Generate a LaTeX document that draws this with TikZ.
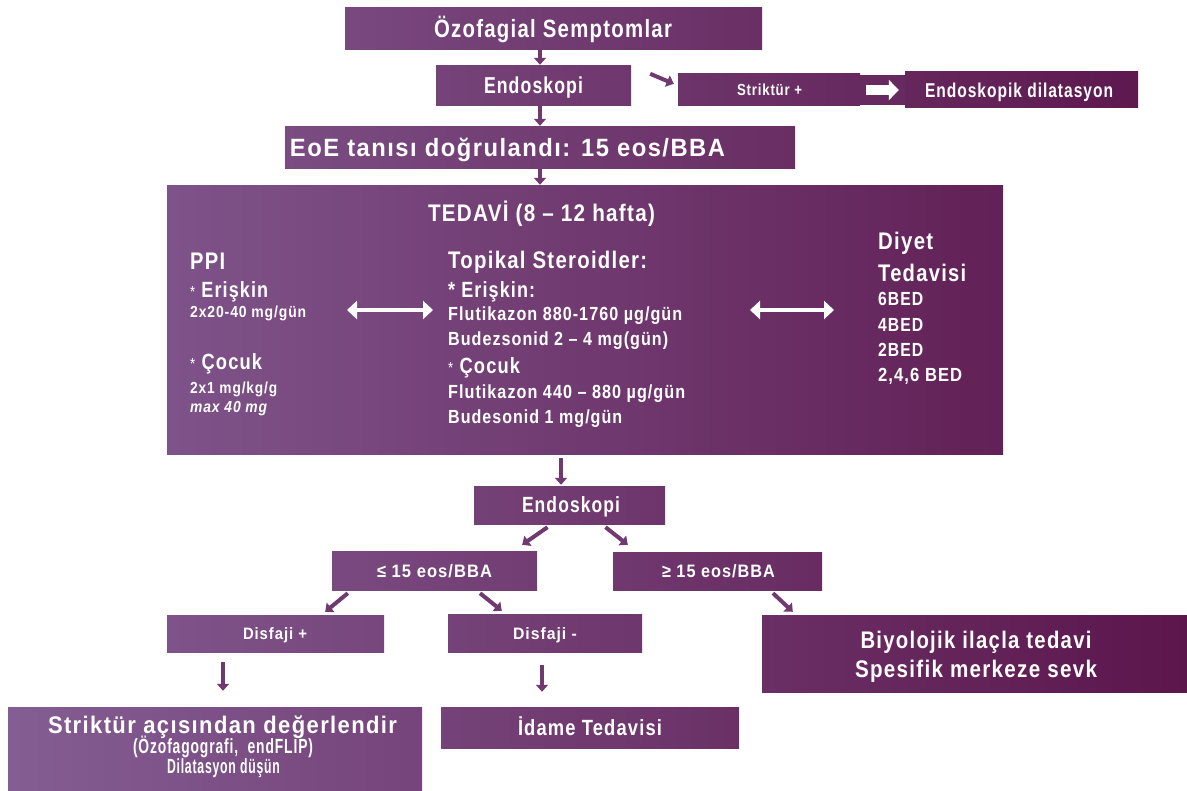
\documentclass[tikz,border=0pt]{standalone}
\usepackage{graphicx}
\usepackage{fontspec}
\setmainfont[FakeStretch=0.8,LetterSpace=5]{Liberation Sans}
\usetikzlibrary{arrows.meta,calc}
\definecolor{gL}{RGB}{132,94,148}
\definecolor{gR}{RGB}{92,22,76}
\definecolor{arrc}{RGB}{112,58,112}
\newcommand\fs[1]{\fontsize{#1}{#1}\selectfont}
\newsavebox\fitbox
\newlength\fitlen
\newcommand\fitw[2]{\sbox\fitbox{#2}\setlength\fitlen{\wd\fitbox}%
  \pgfmathsetmacro\fitfac{#1/\fitlen}\scalebox{\fitfac}[1]{\usebox\fitbox}}
\newcommand\gradbox[5]{%
  \pgfmathtruncatemacro\pa{100*(1-#2/1187)}%
  \pgfmathtruncatemacro\pb{100*(1-#4/1187)}%
  \node[gbox, minimum width={#4-#2}, minimum height={#5-#3},
        left color=gL!\pa!gR, right color=gL!\pb!gR]
        (#1) at ({(#2+#4)/2},{(#3+#5)/2}) {};}
\tikzset{
  gbox/.style={inner sep=0pt, draw=none},
  arr/.style={draw=arrc, line width=4pt, -{Triangle[length=7pt,width=12pt]}},
  warr/.style={draw=white, line width=4.5pt, {Triangle[length=10pt,width=18pt]}-{Triangle[length=10pt,width=18pt]}},
  wone/.style={draw=white, line width=10pt, -{Triangle[length=10pt,width=20pt]}},
  tx/.style={text=white, font=\bfseries, anchor=base, inner sep=0pt},
  txl/.style={tx, anchor=base west},
}
\begin{document}
\begin{tikzpicture}[x=1pt,y=-1pt]
\fill[white] (0,0) rectangle (1187,791);
\useasboundingbox (0,0) rectangle (1187,791);

\gradbox{oz}{345}{8}{762}{50}
\gradbox{en1}{436}{66}{631}{106}
\gradbox{str}{678}{74}{860}{106}
\fill[gL!28!gR] (str.north east) ++(0,1) rectangle (905,105);
\gradbox{dil}{905}{72}{1138}{108}
\gradbox{eoe}{285}{127}{795}{169}
\gradbox{big}{167}{186}{1003}{455}
\gradbox{en2}{474}{487}{665}{525}
\gradbox{le}{332}{552}{537}{590}
\gradbox{ge}{613}{553}{822}{590}
\gradbox{dp}{167}{615}{384}{652}
\gradbox{dm}{448}{614}{642}{652}
\gradbox{bio}{762}{615}{1187}{692}
\gradbox{sa}{8}{707}{422}{791}
\gradbox{id}{441}{707}{739}{748}

% box texts
\node[tx] (ozt) at (553,38) {\fs{25}\fitw{238}{Özofagial Semptomlar}};
\node[tx] (en1t) at (533.5,94) {\fs{23}\fitw{99}{Endoskopi}};
\node[tx] (strt) at (769.5,96) {\fs{16}\fitw{65}{Striktür +}};
\node[tx] (dilt) at (1019,98) {\fs{20}\fitw{188}{Endoskopik dilatasyon}};
\node[tx] (eoet) at (507.5,157) {\fs{25}\fitw{435}{EoE tanısı doğrulandı: 15 eos/BBA}};
\node[tx] (en2t) at (571,513) {\fs{22}\fitw{98}{Endoskopi}};
\node[tx] (let) at (434.5,577) {\fs{18}\fitw{115}{≤ 15 eos/BBA}};
\node[tx] (get) at (718.5,577) {\fs{18}\fitw{113}{≥ 15 eos/BBA}};
\node[tx] (dpt) at (275,639.5) {\fs{16.5}\fitw{64}{Disfaji +}};
\node[tx] (dmt) at (545,639) {\fs{16.5}\fitw{64}{Disfaji -}};
\node[tx] (biot1) at (976,648) {\fs{24}\fitw{231}{Biyolojik ilaçla tedavi}};
\node[tx] (biot2) at (976,677) {\fs{24}\fitw{242}{Spesifik merkeze sevk}};
\node[tx] (sat1) at (222.5,733) {\fs{24}\fitw{349}{Striktür açısından değerlendir}};
\node[tx] (sat2) at (223,753) {\fs{20.5}\fitw{180}{(Özofagografi,\ \ endFLIP)}};
\node[tx] (sat3) at (223.5,773) {\fs{20.5}\fitw{113}{Dilatasyon düşün}};
\node[tx] (idt) at (590,735) {\fs{22}\fitw{144}{İdame Tedavisi}};

% contents of the treatment box
\node[tx] (ted) at (541.5,222) {\fs{24}\fitw{227}{TEDAVİ (8 – 12 hafta)}};
\node[txl] (ppi) at (190,270) {\fs{24}\fitw{35}{PPI}};
\node[txl] (ppi1) at (190,298) {\fs{22}\fitw{78}{{\mdseries\fs{16}*} Erişkin}};
\node[txl] (ppi2) at (190,318) {\fs{16}\fitw{116}{2x20-40 mg/gün}};
\node[txl] (ppi3) at (190,370) {\fs{22}\fitw{72}{{\mdseries\fs{16}*} Çocuk}};
\node[txl] (ppi4) at (190,394) {\fs{16}\fitw{87}{2x1 mg/kg/g}};
\node[txl] (ppi5) at (190,413) {\fs{16}\itshape\fitw{77}{max 40 mg}};

\node[txl] (ts) at (448,269) {\fs{24}\fitw{199}{Topikal Steroidler:}};
\node[txl] (ts1) at (448,298) {\fs{22}\fitw{87}{* Erişkin:}};
\node[txl] (ts2) at (448,321) {\fs{19}\fitw{234}{Flutikazon 880-1760 µg/gün}};
\node[txl] (ts3) at (448,346) {\fs{19}\fitw{220}{Budezsonid 2 – 4 mg(gün)}};
\node[txl] (ts4) at (448,374) {\fs{22}\fitw{72}{{\mdseries\fs{16}*} Çocuk}};
\node[txl] (ts5) at (448,399) {\fs{19}\fitw{237}{Flutikazon 440 – 880 µg/gün}};
\node[txl] (ts6) at (448,424) {\fs{19}\fitw{174}{Budesonid 1 mg/gün}};

\node[txl] (dy) at (878,250) {\fs{24}\fitw{55}{Diyet}};
\node[txl] (dy1) at (878,282) {\fs{24}\fitw{88}{Tedavisi}};
\node[txl] (dy2) at (878,306) {\fs{19}\fitw{45}{6BED}};
\node[txl] (dy3) at (878,332) {\fs{19}\fitw{45}{4BED}};
\node[txl] (dy4) at (878,357) {\fs{19}\fitw{45}{2BED}};
\node[txl] (dy5) at (878,382) {\fs{19}\fitw{84}{2,4,6 BED}};

\coordinate (w1a) at (347,310);
\coordinate (w1b) at (433,310);
\coordinate (w2a) at (750,310);
\coordinate (w2b) at (834,310);
\draw[warr] (w1a) -- (w1b);
\draw[warr] (w2a) -- (w2b);

% connectors
\draw[arr] ($(oz.south)+(-13.5,0)$) -- ($(en1.north)+(6.5,-1)$);
\draw[arr] ($(en1.south)+(6.5,0)$) -- ($(eoe.north)+(0,-1)$);
\draw[arr] (eoe.south) -- ($(big.north)+(-45,-1)$);
\draw[arr] ($(en1.north east)+(19,8)$) -- ($(str.north west)+(-4,10)$);
\draw[wone] ($(str.east)+(6,0)$) -- ($(dil.west)+(-6,0)$);
\draw[arr] ($(big.south)+(-24,3)$) -- ($(en2.north)+(-8.5,-2)$);
\draw[arr] ($(en2.south)+(-22,2)$) -- ($(le.north east)+(-15,-7)$);
\draw[arr] ($(en2.south)+(36,2)$) -- ($(ge.north west)+(15,-8)$);
\draw[arr] ($(le.south west)+(16,3)$) -- ($(dp.north east)+(-59,-3)$);
\draw[arr] ($(le.south)+(45.5,3)$) -- ($(dm.north west)+(54,-3)$);
\draw[arr] ($(ge.south)+(55.5,3)$) -- ($(bio.north west)+(31,-3)$);
\draw[arr] ($(dp.south)+(-52.5,10)$) -- ($(sa.north)+(8,-16)$);
\draw[arr] ($(dm.south)+(-3,13)$) -- ($(id.north)+(-48,-15)$);
\end{tikzpicture}
\end{document}
